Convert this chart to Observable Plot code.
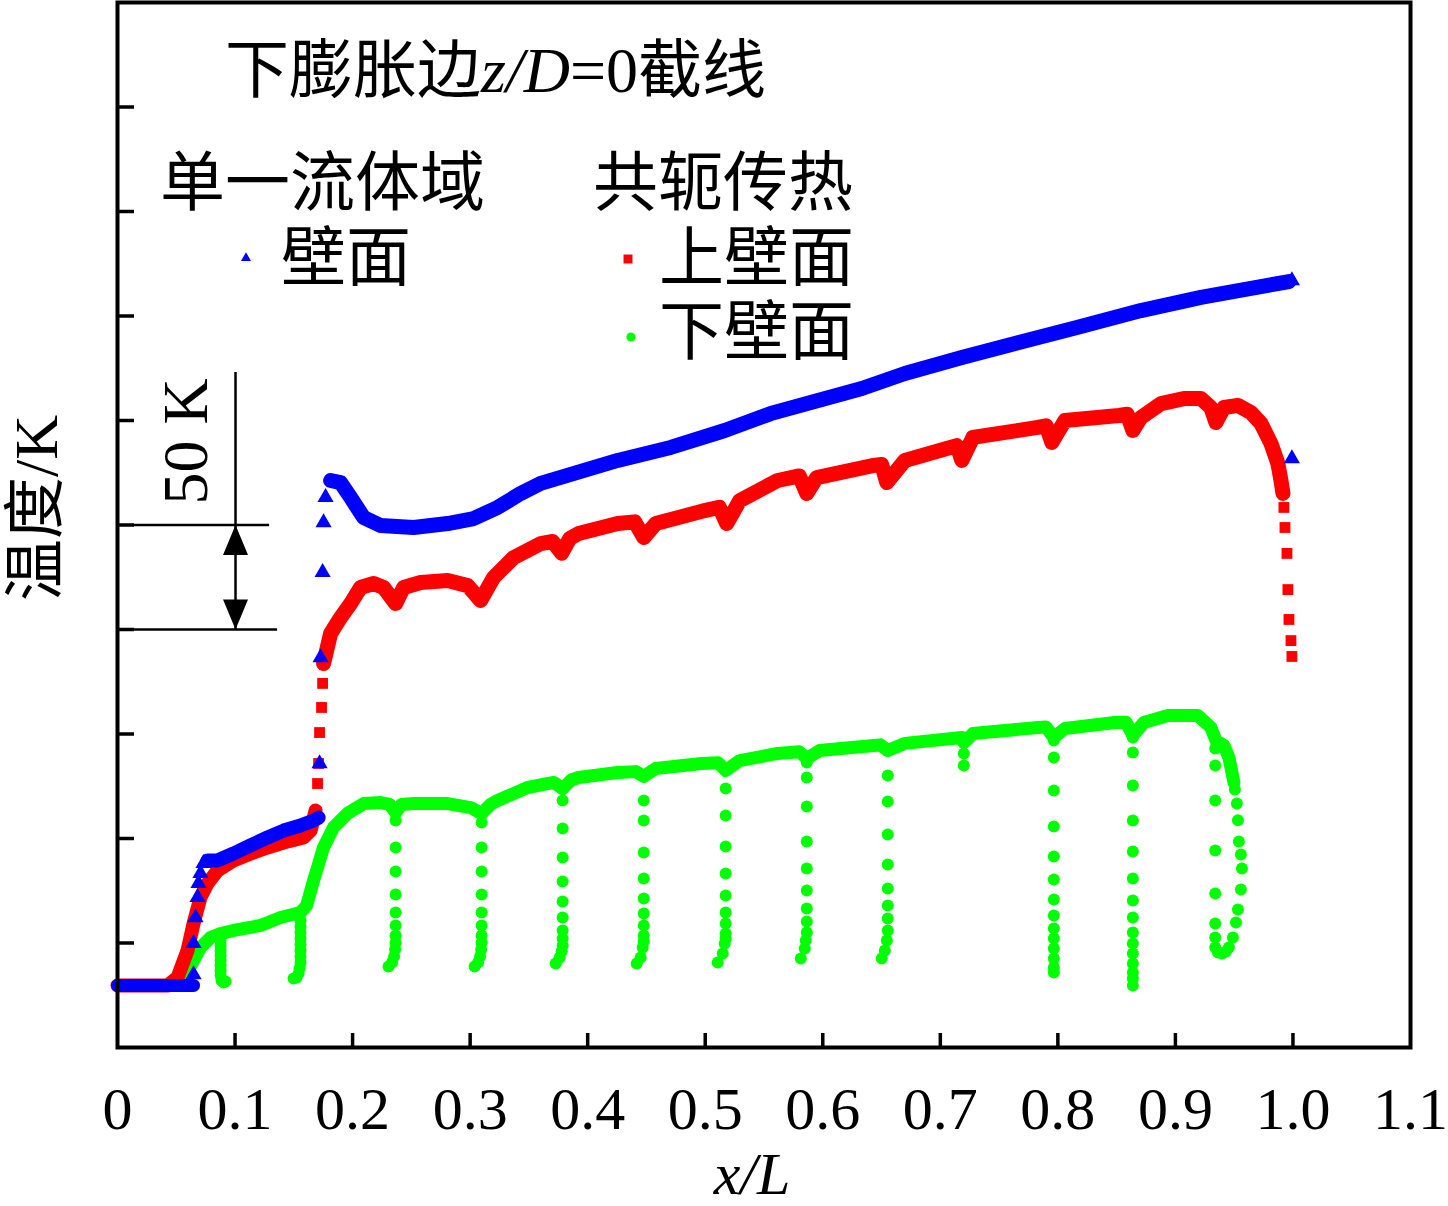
<!DOCTYPE html>
<html><head><meta charset="utf-8">
<script src="https://cdn.jsdelivr.net/npm/d3@7"></script>
<script src="https://cdn.jsdelivr.net/npm/@observablehq/plot@0.6"></script>
<style>body{margin:0;background:#fff}svg{display:block}</style>
</head><body><div id="chart"></div>
<script>
// ---- axis ticks ----
const xTicks = [0, 0.1, 0.2, 0.3, 0.4, 0.5, 0.6, 0.7, 0.8, 0.9, 1.0, 1.1];
const xTickLabels = ["0", "0.1", "0.2", "0.3", "0.4", "0.5", "0.6", "0.7", "0.8", "0.9", "1.0", "1.1"];
const yTicks = [300, 350, 400, 450, 500, 550, 600, 650, 700];

// ---- 单一流体域 壁面 (blue triangles) : [x/L, T(K)] ----
const blueFlat = [[0, 279.7], [0.0647, 279.7]];
const blueRise = [[0.0647, 284.9], [0.0647, 299.8], [0.0664, 312.2], [0.0681, 321.8], [0.0689, 328.5], [0.0706, 333.3], [0.0732, 338.1]];
const blueLow = [[0.0766, 339.5], [0.0851, 339.5], [0.0987, 342.8], [0.1132, 346.7], [0.1277, 350.5], [0.1413, 353.8], [0.1557, 356.2], [0.1668, 358.6], [0.1711, 360.0]];
const blueJump = [[0.1719, 385.9], [0.1728, 436.6], [0.1745, 477.3], [0.1753, 501.2], [0.1770, 513.2]];
const blueHigh = [[0.1813, 521.3], [0.1898, 520.3], [0.1983, 513.2], [0.2094, 503.6], [0.2238, 499.8], [0.2519, 498.8], [0.2809, 500.7], [0.3030, 503.1], [0.3234, 508.4], [0.3430, 515.1], [0.3600, 519.9], [0.4255, 530.9], [0.4706, 537.1], [0.5166, 545.2], [0.5557, 553.3], [0.6332, 565.3], [0.6698, 572.5], [0.7183, 580.1], [0.7668, 587.3], [0.8162, 594.5], [0.8706, 602.6], [0.9217, 608.9], [0.9643, 613.2], [0.9966, 616.5]];
const blueEnd = [[0.9991, 617.0], [0.9991, 531.8]];

// ---- 共轭传热 上壁面 (red squares) ----
const redLow = [[0, 279.7], [0.0426, 279.7], [0.0511, 283.5], [0.0596, 296.4], [0.0647, 309.3], [0.0706, 321.8], [0.0766, 328.5], [0.0851, 334.7], [0.0987, 339.5], [0.1132, 342.8], [0.1277, 345.7], [0.1413, 348.1], [0.1583, 350.5], [0.1643, 353.8], [0.1685, 363.4]];
const redJump = [[0.1702, 376.3], [0.1711, 385.9], [0.1719, 400.7], [0.1736, 412.7], [0.1745, 424.2]];
const redHigh = [[0.1753, 433.7], [0.1813, 448.1], [0.1898, 455.7], [0.1983, 462.4], [0.2068, 470.1], [0.2179, 472.0], [0.2264, 470.1], [0.2366, 462.4], [0.2434, 470.1], [0.2579, 472.5], [0.2809, 473.4], [0.2979, 471.0], [0.3089, 463.9], [0.3200, 474.9], [0.3370, 484.4], [0.3600, 491.1], [0.3702, 492.1], [0.3779, 486.5], [0.3847, 493.5], [0.3923, 495.9], [0.4255, 500.7], [0.4400, 501.5], [0.4477, 494.0], [0.4579, 500.7], [0.5004, 507.0], [0.5120, 508.5], [0.5183, 500.7], [0.5294, 511.7], [0.5617, 521.3], [0.5800, 523.5], [0.5864, 515.1], [0.5949, 522.7], [0.6434, 528.5], [0.6500, 529.0], [0.6545, 520.3], [0.6698, 530.9], [0.7055, 536.6], [0.7140, 538.0], [0.7183, 530.9], [0.7277, 541.9], [0.7830, 546.7], [0.7900, 547.5], [0.7949, 539.5], [0.8060, 550.0], [0.8519, 552.4], [0.8590, 553.0], [0.8638, 545.2], [0.8706, 551.4], [0.8877, 558.1], [0.9072, 560.5], [0.9217, 560.5], [0.9302, 556.2], [0.9345, 549.0], [0.9413, 556.2], [0.9532, 557.2], [0.9643, 553.8], [0.9728, 548.6], [0.9813, 539.0], [0.9872, 529.4], [0.9898, 521.3], [0.9915, 515.1]];
const redEnd = [[0.9923, 508.4], [0.9932, 498.8], [0.9949, 486.4], [0.9957, 469.1], [0.9966, 454.8], [0.9983, 444.7], [0.9991, 437.1]];

// ---- 共轭传热 下壁面 (green circles) ----
const greenBand = [[0, 279.7], [0.0451, 279.7], [0.0579, 284.4], [0.0706, 297.8], [0.0791, 302.6], [0.0877, 304.5], [0.0987, 306.0], [0.1217, 308.4], [0.1387, 312.2], [0.1557, 314.6], [0.1609, 317.9], [0.1668, 329.9], [0.1753, 345.7], [0.1838, 355.3], [0.1957, 362.0], [0.2094, 366.7], [0.2238, 367.2], [0.2315, 366.3], [0.2366, 362.4], [0.2417, 366.3], [0.2519, 366.7], [0.2809, 366.7], [0.3004, 364.8], [0.3098, 362.0], [0.3174, 366.3], [0.3234, 368.2], [0.3489, 374.4], [0.3711, 376.8], [0.3787, 373.9], [0.3860, 378.0], [0.3923, 379.2], [0.4255, 381.6], [0.4410, 382.0], [0.4477, 379.7], [0.4579, 383.5], [0.4970, 385.9], [0.5110, 386.2], [0.5174, 382.5], [0.5294, 387.3], [0.5617, 390.7], [0.5800, 391.5], [0.5864, 388.3], [0.5974, 392.1], [0.6434, 394.5], [0.6490, 394.8], [0.6553, 392.1], [0.6698, 395.5], [0.7183, 398.3], [0.7200, 395.9], [0.7277, 400.2], [0.7830, 403.1], [0.7900, 403.3], [0.7966, 398.3], [0.8060, 402.6], [0.8485, 405.5], [0.8580, 405.6], [0.8638, 399.3], [0.8732, 405.5], [0.8936, 408.9], [0.9191, 408.9], [0.9302, 403.1], [0.9345, 396.9], [0.9413, 394.5], [0.9455, 388.8], [0.9498, 376.8]];
const greenDrop1 = [[0.0877, 301.2], [0.0877, 298.8], [0.0877, 296.4], [0.0877, 294.0], [0.0877, 291.6], [0.0877, 289.2], [0.0877, 286.8], [0.0877, 284.4], [0.0885, 282.1], [0.0902, 281.1], [0.0919, 281.6]];
const greenDrop2 = [[0.1557, 310.8], [0.1557, 307.9], [0.1557, 305.0], [0.1557, 302.2], [0.1557, 299.3], [0.1557, 296.4], [0.1557, 293.5], [0.1557, 290.7], [0.1549, 287.8], [0.1540, 285.4], [0.1523, 283.5], [0.1498, 283.0]];
const greenDrop3 = [[0.2366, 358.6], [0.2366, 345.7], [0.2366, 334.2], [0.2366, 323.2], [0.2366, 314.6], [0.2366, 308.4], [0.2366, 303.6], [0.2366, 300.2], [0.2362, 296.9], [0.2353, 293.5], [0.2336, 290.7], [0.2306, 288.8]];
const greenDrop4 = [[0.3098, 357.7], [0.3098, 345.7], [0.3098, 334.2], [0.3098, 323.2], [0.3098, 314.6], [0.3098, 308.4], [0.3098, 303.6], [0.3098, 300.2], [0.3094, 296.9], [0.3085, 293.5], [0.3068, 290.7], [0.3038, 288.8]];
const greenDrop5 = [[0.3787, 368.2], [0.3787, 354.8], [0.3787, 340.9], [0.3787, 329.4], [0.3787, 319.9], [0.3787, 312.2], [0.3787, 306.0], [0.3787, 302.2], [0.3787, 298.8], [0.3779, 296.0], [0.3762, 293.1], [0.3728, 290.2]];
const greenDrop6 = [[0.4477, 368.2], [0.4477, 358.6], [0.4477, 343.3], [0.4477, 330.9], [0.4477, 321.3], [0.4477, 314.1], [0.4477, 308.4], [0.4477, 303.6], [0.4477, 300.7], [0.4468, 297.8], [0.4451, 293.1], [0.4417, 290.2]];
const greenDrop7 = [[0.5174, 373.9], [0.5174, 361.0], [0.5174, 346.2], [0.5174, 333.3], [0.5174, 322.7], [0.5174, 314.6], [0.5174, 309.3], [0.5174, 304.5], [0.5174, 302.2], [0.5166, 299.8], [0.5149, 295.0], [0.5106, 290.7]];
const greenDrop8 = [[0.5864, 386.4], [0.5864, 379.2], [0.5864, 365.3], [0.5864, 348.6], [0.5864, 335.6], [0.5864, 325.1], [0.5864, 316.5], [0.5864, 310.3], [0.5864, 305.0], [0.5855, 301.2], [0.5847, 297.4], [0.5813, 292.6]];
const greenDrop9 = [[0.6553, 380.1], [0.6553, 367.7], [0.6553, 351.9], [0.6553, 337.6], [0.6553, 326.1], [0.6553, 317.9], [0.6553, 311.7], [0.6553, 306.0], [0.6545, 301.2], [0.6528, 296.4], [0.6502, 292.6]];
const greenDrop10 = [[0.7200, 390.7], [0.7200, 384.9]];
const greenDrop11 = [[0.7966, 396.9], [0.7966, 388.8], [0.7966, 373.0], [0.7966, 355.7], [0.7966, 341.4], [0.7966, 330.4], [0.7966, 320.8], [0.7966, 313.2], [0.7966, 306.9], [0.7966, 302.2], [0.7966, 297.4], [0.7966, 292.6], [0.7966, 288.3], [0.7966, 285.9]];
const greenDrop12 = [[0.8638, 398.3], [0.8638, 391.1], [0.8638, 375.4], [0.8638, 358.6], [0.8638, 343.8], [0.8638, 330.9], [0.8638, 320.3], [0.8638, 312.2], [0.8638, 305.0], [0.8638, 299.8], [0.8638, 295.0], [0.8638, 290.2], [0.8638, 285.9], [0.8638, 283.0], [0.8638, 279.7]];
const greenTrailA = [[0.9339, 393.1], [0.9339, 384.9], [0.9339, 368.2], [0.9339, 344.3], [0.9339, 323.7], [0.9339, 309.3], [0.9339, 302.6], [0.9339, 297.8], [0.9362, 295.5], [0.9396, 295.0]];
const greenTrailB = [[0.9506, 373.5], [0.9523, 366.8], [0.9532, 358.7], [0.9540, 348.6], [0.9557, 342.3], [0.9566, 335.6], [0.9557, 325.6], [0.9532, 316.0], [0.9515, 309.8], [0.9489, 302.6], [0.9455, 297.8], [0.9430, 295.9]];

// ---- 50 K scale bar ----
const scaleLow = 450, scaleHigh = 500, scaleTop = 573;
const scaleBarX = 0.1004, scaleLeft = 0.013, scaleRightHigh = 0.1294, scaleRightLow = 0.1362;

const greenDrops = [].concat(greenDrop1, greenDrop2, greenDrop3, greenDrop4, greenDrop5, greenDrop6, greenDrop7, greenDrop8, greenDrop9, greenDrop10, greenDrop11, greenDrop12, greenTrailA, greenTrailB);

const serif = "'Liberation Serif','Times New Roman','Noto Sans CJK SC',serif";
const BLUE = "#0000ff", RED = "#ff0000", GREEN = "#00ff00";
const X = d => d[0], Y = d => d[1];
const arrowHead = {draw(ctx) { ctx.moveTo(0, 0); ctx.lineTo(-12.5, 30); ctx.lineTo(12.5, 30); ctx.closePath(); }};
const band = (data, color, w) => Plot.line(data, {x: X, y: Y, stroke: color, strokeWidth: w, strokeLinejoin: "round", strokeLinecap: "round"});

const plot = Plot.plot({
  width: 1448, height: 1206,
  marginLeft: 117, marginRight: 38, marginTop: 2, marginBottom: 159,
  x: {domain: [0, 1.1]},
  y: {domain: [250, 750]},
  style: {background: "#fff", color: "#000"},
  marks: [
    // green lower wall
    band(greenBand, GREEN, 13),
    Plot.dot(greenDrops, {x: X, y: Y, r: 6, fill: GREEN, stroke: "none", symbol: "circle"}),
    // red upper wall
    band(redLow, RED, 14),
    band(redHigh, RED, 15),
    Plot.dot(redJump.concat(redEnd), {x: X, y: Y, r: 6.1, fill: RED, stroke: "none", symbol: "square"}),
    // blue single-domain wall
    band(blueFlat, BLUE, 13),
    band(blueLow, BLUE, 14),
    band(blueHigh, BLUE, 15),
    Plot.dot(blueRise.concat(blueJump, blueEnd), {x: X, y: Y, r: 6, fill: BLUE, stroke: "none", symbol: "triangle"}),
    // 50 K scale bar
    Plot.ruleY([scaleHigh], {x1: scaleLeft, x2: scaleRightHigh, strokeWidth: 2.5}),
    Plot.ruleY([scaleLow], {x1: scaleLeft, x2: scaleRightLow, strokeWidth: 2.5}),
    Plot.ruleX([scaleBarX], {y1: scaleLow, y2: scaleTop, strokeWidth: 2.5}),
    Plot.dot([scaleHigh], {x: scaleBarX, y: d => d, symbol: arrowHead, fill: "#000", stroke: "none"}),
    Plot.dot([scaleLow], {x: scaleBarX, y: d => d, symbol: arrowHead, rotate: 180, fill: "#000", stroke: "none"}),
    Plot.text(["50 K"], {x: 0.0587, y: 540, text: d => d, rotate: -90, fontSize: 64, fontFamily: serif, textAnchor: "middle", lineAnchor: "middle", fill: "#000"}),
    // axes
    Plot.axisX({ticks: xTicks.slice(1, -1), tickSize: -14, fill: "none", strokeWidth: 3.5, label: null}),
    Plot.axisY({ticks: yTicks, tickSize: -17, fill: "none", strokeWidth: 3.5, label: null}),
    Plot.axisX({ticks: xTicks, tickSize: 0, tickPadding: 39, label: null, fill: "#000",
      tickFormat: d => xTickLabels[xTicks.findIndex(t => Math.abs(t - d) < 1e-9)],
      fontSize: 60, fontFamily: serif}),
    Plot.frame({stroke: "#000", strokeWidth: 4})
  ]
});

document.getElementById("chart").appendChild(plot);

// ---- title, legend, axis titles ----
const svg = d3.select(plot);
const txt = (x, y, size) => svg.append("text").attr("x", x).attr("y", y)
  .attr("text-anchor", "start")
  .attr("font-family", serif).attr("font-size", size).attr("fill", "#000");

const t = txt(225, 92, 64);
t.append("tspan").text("下膨胀边");
t.append("tspan").attr("font-style", "italic").text("z/D");
t.append("tspan").text("=0截线");

txt(160, 205, 65).text("单一流体域");
txt(593, 205, 65).text("共轭传热");
txt(281, 280, 65).text("壁面");
txt(659, 280, 65).text("上壁面");
txt(659, 354, 65).text("下壁面");

svg.append("path").attr("d", d3.symbol(d3.symbolTriangle, 44)()).attr("transform", "translate(246,258)").attr("fill", BLUE);
svg.append("path").attr("d", d3.symbol(d3.symbolSquare, 80)()).attr("transform", "translate(628,259)").attr("fill", RED);
svg.append("circle").attr("cx", 631).attr("cy", 337).attr("r", 4.6).attr("fill", GREEN);

svg.append("text").attr("transform", "translate(36,508) rotate(-90)")
  .attr("text-anchor", "middle").attr("dominant-baseline", "central")
  .attr("font-family", serif).attr("font-size", 62).attr("fill", "#000").text("温度/K");

txt(752, 1194, 60).attr("text-anchor", "middle").attr("font-style", "italic").text("x/L");
</script>
</body></html>
